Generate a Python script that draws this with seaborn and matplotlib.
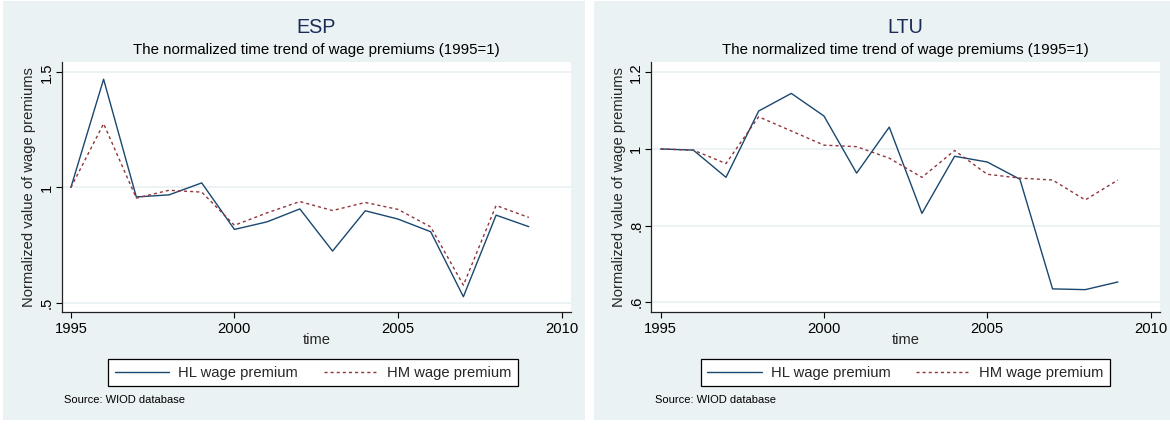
import numpy as np
import pandas as pd
import seaborn as sns
import matplotlib.pyplot as plt
from matplotlib.patches import Rectangle

sns.set_style('white')
plt.rcParams['font.family'] = ['Liberation Sans', 'DejaVu Sans']

# data
years = list(range(1995, 2010))
esp_hl = [1.0, 1.47, 0.959, 0.968, 1.02, 0.818, 0.851, 0.907, 0.724, 0.899, 0.863, 0.808, 0.526, 0.88, 0.83]
esp_hm = [1.0, 1.277, 0.954, 0.988, 0.980, 0.836, 0.89, 0.939, 0.90, 0.935, 0.905, 0.829, 0.576, 0.922, 0.87]
ltu_hl = [1.0, 0.997, 0.926, 1.099, 1.145, 1.086, 0.937, 1.057, 0.832, 0.981, 0.966, 0.921, 0.635, 0.633, 0.653]
ltu_hm = [1.0, 0.997, 0.962, 1.084, 1.047, 1.010, 1.006, 0.976, 0.926, 0.996, 0.934, 0.924, 0.919, 0.867, 0.919]

x_ticks = [1995, 2000, 2005, 2010]
esp_yticks = [0.5, 1.0, 1.5]
esp_ylabels = ['.5', '1', '1.5']
ltu_yticks = [0.6, 0.8, 1.0, 1.2]
ltu_ylabels = ['.6', '.8', '1', '1.2']

BG = '#eaf2f3'
NAVY = '#1a476f'
MAROON = '#90353b'

W, H = 1170, 424
fig = plt.figure(figsize=(W / 100, H / 100), dpi=100, facecolor='white')

panels = [
    dict(name='ESP', hl=esp_hl, hm=esp_hm, yt=esp_yticks, yl=esp_ylabels,
         ylim=(0.4583, 1.5434), bg=(3, 585), plot=(61.6, 571)),
    dict(name='LTU', hl=ltu_hl, hm=ltu_hm, yt=ltu_yticks, yl=ltu_ylabels,
         ylim=(0.5739, 1.2261), bg=(594, 1170), plot=(651.4, 1160)),
]

top_px, bot_px = 62.3, 312.3

for p in panels:
    # panel background
    bx0, bx1 = p['bg']
    fig.patches.append(Rectangle((bx0 / W, 1 - 420 / H), (bx1 - bx0) / W, 419 / H,
                                 transform=fig.transFigure, facecolor=BG,
                                 edgecolor='none', zorder=-10))
    px0, px1 = p['plot']
    ax = fig.add_axes([px0 / W, 1 - bot_px / H, (px1 - px0) / W, (bot_px - top_px) / H])
    ax.set_facecolor('white')

    df = pd.DataFrame({'time': years, 'hl': p['hl'], 'hm': p['hm']})
    sns.lineplot(data=df, x='time', y='hl', ax=ax, color=NAVY, lw=1.0,
                 label='HL wage premium')
    sns.lineplot(data=df, x='time', y='hm', ax=ax, color=MAROON, lw=1.0,
                 linestyle=(0, (2.2, 2.2)), label='HM wage premium')

    ax.set_xlim(1994.716, 2010.29)
    ax.set_ylim(*p['ylim'])
    ax.set_xticks(x_ticks)
    ax.set_xticklabels([str(t) for t in x_ticks])
    ax.set_yticks(p['yt'])
    ax.set_yticklabels(p['yl'], rotation=90, va='center')
    ax.tick_params(axis='x', length=4, width=0.8, pad=3, labelsize=10.6, colors='black', direction='out', bottom=True)
    ax.tick_params(axis='y', length=4.6, width=0.8, pad=1.2, labelsize=10.6, colors='black', direction='out', left=True)
    ax.yaxis.grid(True, color=BG, lw=1.3)
    ax.xaxis.grid(False)
    ax.set_axisbelow(True)
    for s in ['top', 'right']:
        ax.spines[s].set_visible(False)
    for s in ['left', 'bottom']:
        ax.spines[s].set_color('#222222')
        ax.spines[s].set_linewidth(0.9)

    ax.set_xlabel('time', fontsize=10.6)
    ax.xaxis.set_label_coords(0.5, -0.082)
    ax.set_ylabel('Normalized value of wage premiums', fontsize=10.6)
    ax.yaxis.set_label_coords(-0.0506, 0.5)

    cx = (px0 + px1) / 2 / W
    fig.text(cx, 1 - 32.7 / H, p['name'], ha='center', va='baseline',
             fontsize=14.2, color='#1a2b55')
    fig.text(cx, 1 - 54.3 / H, 'The normalized time trend of wage premiums (1995=1)',
             ha='center', va='baseline', fontsize=10.8, color='black')

    handles, labels = ax.get_legend_handles_labels()
    leg = ax.legend(handles, labels, loc='center', ncol=2,
                    bbox_to_anchor=((bx0 + 313 - 3) / W if p['name'] == 'ESP' else (bx0 + 311.5) / W, 1 - 372.7 / H),
                    bbox_transform=fig.transFigure, frameon=True, fancybox=False,
                    edgecolor='black', facecolor='white', framealpha=1,
                    fontsize=10.6, handlelength=3.7, handletextpad=0.6,
                    columnspacing=1.75, borderpad=0.45, borderaxespad=0)
    leg.get_frame().set_linewidth(0.9)

    fig.text((bx0 + 61) / W, 1 - 403 / H, 'Source: WIOD database',
             ha='left', va='baseline', fontsize=8.0, color='black')

fig.savefig('out.png', dpi=100, facecolor='white')
